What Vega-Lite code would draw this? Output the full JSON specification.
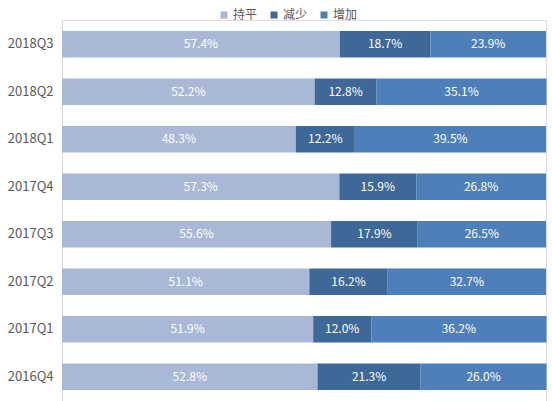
{
  "$schema": "https://vega.github.io/schema/vega-lite/v6.json",
  "description": "Quarterly share: flat / down / up.",
  "width": 484,
  "height": 381,
  "autosize": "none",
  "padding": {"left": 62, "top": 20, "right": 6, "bottom": 0},
  "background": "white",
  "data": {
    "values": [
      {"quarter": "2018Q3", "series": "持平", "share": 0.574},
      {"quarter": "2018Q3", "series": "减少", "share": 0.187},
      {"quarter": "2018Q3", "series": "增加", "share": 0.239},
      {"quarter": "2018Q2", "series": "持平", "share": 0.522},
      {"quarter": "2018Q2", "series": "减少", "share": 0.128},
      {"quarter": "2018Q2", "series": "增加", "share": 0.351},
      {"quarter": "2018Q1", "series": "持平", "share": 0.483},
      {"quarter": "2018Q1", "series": "减少", "share": 0.122},
      {"quarter": "2018Q1", "series": "增加", "share": 0.395},
      {"quarter": "2017Q4", "series": "持平", "share": 0.573},
      {"quarter": "2017Q4", "series": "减少", "share": 0.159},
      {"quarter": "2017Q4", "series": "增加", "share": 0.268},
      {"quarter": "2017Q3", "series": "持平", "share": 0.556},
      {"quarter": "2017Q3", "series": "减少", "share": 0.179},
      {"quarter": "2017Q3", "series": "增加", "share": 0.265},
      {"quarter": "2017Q2", "series": "持平", "share": 0.511},
      {"quarter": "2017Q2", "series": "减少", "share": 0.162},
      {"quarter": "2017Q2", "series": "增加", "share": 0.327},
      {"quarter": "2017Q1", "series": "持平", "share": 0.519},
      {"quarter": "2017Q1", "series": "减少", "share": 0.12},
      {"quarter": "2017Q1", "series": "增加", "share": 0.362},
      {"quarter": "2016Q4", "series": "持平", "share": 0.528},
      {"quarter": "2016Q4", "series": "减少", "share": 0.213},
      {"quarter": "2016Q4", "series": "增加", "share": 0.26}
    ]
  },
  "transform": [
    {"calculate": "indexof(['持平', '减少', '增加'], datum.series)", "as": "rank"},
    {"stack": "share", "groupby": ["quarter"], "sort": [{"field": "rank"}], "as": ["x0", "x1"]},
    {"calculate": "(datum.x0 + datum.x1) / 2", "as": "mid"}
  ],
  "encoding": {
    "y": {
      "field": "quarter",
      "type": "nominal",
      "sort": "descending",
      "title": null,
      "scale": {"paddingInner": 0.44, "paddingOuter": 0.23},
      "axis": {
        "ticks": false,
        "domainColor": "#d9d9d9",
        "labelColor": "#595959",
        "labelFontSize": 13,
        "labelPadding": 9,
        "labelFont": "Noto Sans CJK SC"
      }
    }
  },
  "layer": [
    {
      "mark": {"type": "bar"},
      "encoding": {
        "x": {
          "field": "x0",
          "type": "quantitative",
          "scale": {"domain": [0, 1], "nice": false},
          "axis": null
        },
        "x2": {"field": "x1"},
        "color": {
          "field": "series",
          "type": "nominal",
          "scale": {
            "domain": ["持平", "减少", "增加"],
            "range": ["#a9b8d6", "#3e6898", "#4e7fbb"]
          },
          "legend": {
            "title": null,
            "orient": "none",
            "direction": "horizontal",
            "legendX": 156,
            "legendY": -11,
            "symbolType": "square",
            "symbolSize": 49,
            "symbolStrokeWidth": 0,
            "labelFontSize": 12,
            "labelColor": "#595959",
            "labelFont": "Noto Sans CJK SC",
            "labelOffset": 3,
            "columnPadding": 10
          }
        }
      }
    },
    {
      "mark": {"type": "text", "color": "white", "fontSize": 12, "font": "Noto Sans CJK SC"},
      "encoding": {
        "x": {"field": "mid", "type": "quantitative"},
        "text": {"field": "share", "type": "quantitative", "format": ".1%"}
      }
    }
  ]
}
